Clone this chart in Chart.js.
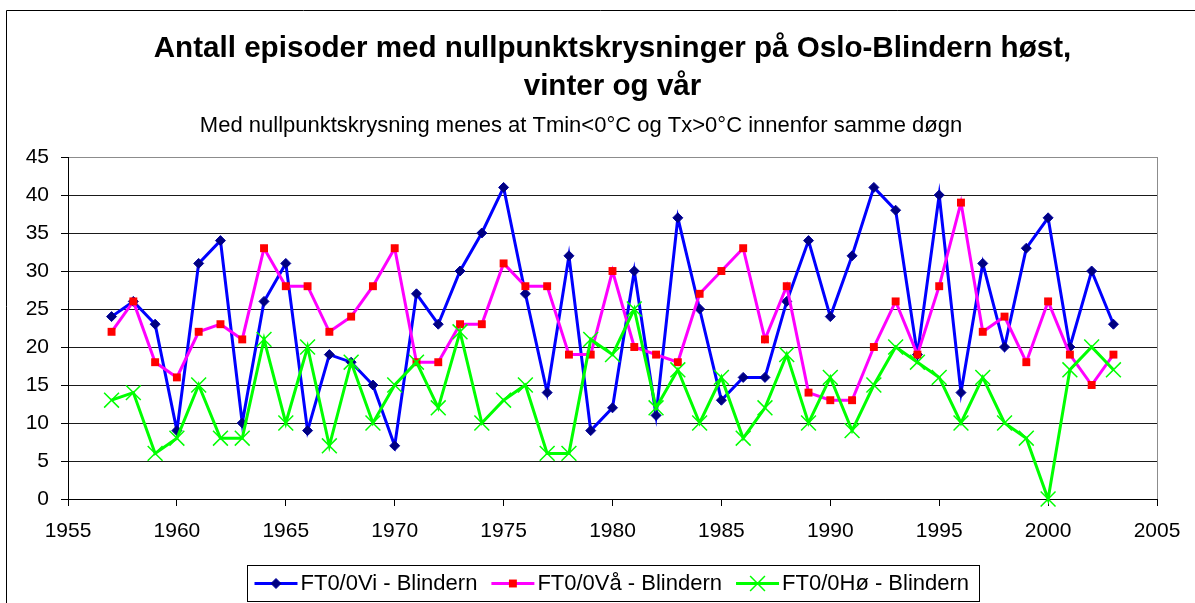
<!DOCTYPE html>
<html>
<head>
<meta charset="utf-8">
<title>Nullpunktskrysninger Oslo-Blindern</title>
<script src="https://cdn.jsdelivr.net/npm/chart.js"></script>
<style>
  html, body { margin: 0; padding: 0; background: #fff; }
  canvas { display: block; }
</style>
</head>
<body>
<canvas id="chart" width="1195" height="603"></canvas>
<script>
// --- Data ---
const years = [1957, 1958, 1959, 1960, 1961, 1962, 1963, 1964, 1965, 1966,
               1967, 1968, 1969, 1970, 1971, 1972, 1973, 1974, 1975, 1976,
               1977, 1978, 1979, 1980, 1981, 1982, 1983, 1984, 1985, 1986,
               1987, 1988, 1989, 1990, 1991, 1992, 1993, 1994, 1995, 1996,
               1997, 1998, 1999, 2000, 2001, 2002, 2003];
const vinter = [24, 26, 23, 9, 31, 34, 10, 26, 31, 9,
                19, 18, 15, 7, 27, 23, 30, 35, 41, 27,
                14, 32, 9, 12, 30, 11, 37, 25, 13, 16,
                16, 26, 34, 24, 32, 41, 38, 19, 40, 14,
                31, 20, 33, 37, 20, 30, 23];
const vaar = [22, 26, 18, 16, 22, 23, 21, 33, 28, 28,
              22, 24, 28, 33, 18, 18, 23, 23, 31, 28,
              28, 19, 19, 30, 20, 19, 18, 27, 30, 33,
              21, 28, 14, 13, 13, 20, 26, 19, 28, 39,
              22, 24, 18, 26, 19, 15, 19];
const host = [13, 14, 6, 8, 15, 8, 8, 21, 10, 20,
              7, 18, 10, 15, 18, 12, 22, 10, 13, 15,
              6, 6, 21, 19, 25, 12, 17, 10, 16, 8,
              12, 19, 10, 16, 9, 15, 20, 18, 16, 10,
              16, 10, 8, 0, 17, 20, 17];
const seriesNames = ['FT0/0Vi - Blindern', 'FT0/0Vå - Blindern', 'FT0/0Hø - Blindern'];
const xRange = [1955, 2005];
const yRange = [0, 45];
const tickStep = 5;

const titleLines = ['Antall episoder med nullpunktskrysninger på Oslo-Blindern høst,', 'vinter og vår'];
const subtitleText = 'Med nullpunktskrysning menes at Tmin<0°C og Tx>0°C innenfor samme døgn';

const FONT = '"Liberation Sans", Arial, Helvetica, sans-serif';
Chart.defaults.font.family = FONT;
Chart.defaults.color = '#000';

const toPoints = arr => arr.map((v, i) => ({ x: years[i], y: v }));

// Excel-ish frame: outer border top/left + grey right edge of plot area
const framePlugin = {
    id: 'frame',
    beforeDraw(chart) {
        const ctx = chart.ctx;
        ctx.save();
        ctx.strokeStyle = '#000';
        ctx.lineWidth = 1;
        ctx.beginPath();
        ctx.moveTo(6.5, chart.height);
        ctx.lineTo(6.5, 10.5);
        ctx.lineTo(chart.width, 10.5);
        ctx.stroke();
        ctx.restore();
    },
    beforeDatasetsDraw(chart) {
        const a = chart.chartArea;
        const ctx = chart.ctx;
        ctx.save();
        ctx.strokeStyle = '#8c8c8c';
        ctx.lineWidth = 1;
        ctx.beginPath();
        ctx.moveTo(Math.round(a.right) + 0.5, a.top);
        ctx.lineTo(Math.round(a.right) + 0.5, a.bottom);
        ctx.stroke();
        ctx.restore();
    }
};

// Subtitle sits a bit left of the title in the original, so it is drawn here
const subtitlePlugin = {
    id: 'subtitleText',
    afterDraw(chart) {
        const ctx = chart.ctx;
        ctx.save();
        ctx.font = '22px ' + FONT;
        ctx.fillStyle = '#000';
        ctx.textAlign = 'center';
        ctx.textBaseline = 'alphabetic';
        ctx.fillText(subtitleText, 581, 132);
        ctx.restore();
    }
};

function drawMarker(ctx, style, x, y, r) {
    ctx.beginPath();
    if (style === 'rectRot') {
        ctx.moveTo(x, y - r);
        ctx.lineTo(x + r, y);
        ctx.lineTo(x, y + r);
        ctx.lineTo(x - r, y);
        ctx.closePath();
        ctx.fill();
        ctx.stroke();
    } else if (style === 'rect') {
        const s = r * Math.SQRT1_2;
        ctx.rect(x - s, y - s, 2 * s, 2 * s);
        ctx.fill();
    } else {
        const d = r * Math.SQRT1_2;
        ctx.moveTo(x - d, y - d);
        ctx.lineTo(x + d, y + d);
        ctx.moveTo(x - d, y + d);
        ctx.lineTo(x + d, y - d);
        ctx.stroke();
    }
}

// Legend box like Excel: line + marker sample, centred under the plot area
const legendPlugin = {
    id: 'excelLegend',
    afterDraw(chart) {
        const ctx = chart.ctx;
        const area = chart.chartArea;
        const sets = chart.data.datasets;
        ctx.save();
        ctx.font = '22px ' + FONT;
        const lineLen = 43, gapText = 3, gapItem = 14, padL = 7, padR = 10;
        const widths = sets.map(ds => ctx.measureText(ds.label).width);
        let total = padL + padR;
        widths.forEach((w, i) => {
            total += lineLen + gapText + w + (i < widths.length - 1 ? gapItem : 0);
        });
        const boxLeft = Math.round((area.left + area.right) / 2 - total / 2) + 0.5;
        const boxTop = 565.5, boxH = 36;
        ctx.strokeStyle = '#000';
        ctx.lineWidth = 1;
        ctx.strokeRect(boxLeft, boxTop, Math.round(total), boxH);

        const cy = boxTop + boxH / 2;
        let x = boxLeft + padL;
        sets.forEach((ds, i) => {
            ctx.strokeStyle = ds.borderColor;
            ctx.lineWidth = ds.borderWidth;
            ctx.beginPath();
            ctx.moveTo(x, cy);
            ctx.lineTo(x + lineLen, cy);
            ctx.stroke();
            ctx.fillStyle = ds.pointBackgroundColor;
            ctx.strokeStyle = ds.pointBorderColor;
            ctx.lineWidth = ds.pointBorderWidth;
            drawMarker(ctx, ds.pointStyle, x + lineLen / 2, cy, ds.pointRadius);
            ctx.fillStyle = '#000';
            ctx.textAlign = 'left';
            ctx.textBaseline = 'middle';
            ctx.fillText(ds.label, x + lineLen + gapText, cy);
            x += lineLen + gapText + widths[i] + gapItem;
        });
        ctx.restore();
    }
};

new Chart(document.getElementById('chart'), {
    type: 'line',
    data: {
        datasets: [
            {
                label: seriesNames[0],
                data: toPoints(vinter),
                borderColor: '#0000ff',
                borderWidth: 3,
                pointStyle: 'rectRot',
                pointRadius: 5,
                pointBackgroundColor: '#000080',
                pointBorderColor: '#0000a0',
                pointBorderWidth: 1,
                order: 3,
                clip: false
            },
            {
                label: seriesNames[1],
                data: toPoints(vaar),
                borderColor: '#ff00ff',
                borderWidth: 3,
                pointStyle: 'rect',
                pointRadius: 5.6,
                pointBackgroundColor: '#ff0000',
                pointBorderColor: '#ff0000',
                pointBorderWidth: 0,
                order: 2,
                clip: false
            },
            {
                label: seriesNames[2],
                data: toPoints(host),
                borderColor: '#00ff00',
                borderWidth: 3,
                pointStyle: 'crossRot',
                pointRadius: 10.5,
                pointBackgroundColor: '#00ff00',
                pointBorderColor: '#00ff00',
                pointBorderWidth: 1.5,
                order: 1,
                clip: false
            }
        ]
    },
    options: {
        responsive: false,
        animation: false,
        events: [],
        layout: {
            padding: { left: 0, right: 38, top: 0, bottom: 54 }
        },
        plugins: {
            legend: { display: false },
            tooltip: { enabled: false },
            title: {
                display: true,
                fullSize: false,
                text: titleLines,
                color: '#000',
                font: { size: 29.6, weight: 'bold', lineHeight: 1.284 },
                padding: { top: 30, bottom: 51 }
            }
        },
        scales: {
            x: {
                type: 'linear',
                min: xRange[0],
                max: xRange[1],
                afterFit: scale => { scale.height = 50; },
                ticks: {
                    stepSize: tickStep,
                    padding: 13,
                    font: { size: 21 },
                    color: '#000',
                    callback: v => String(v)
                },
                grid: {
                    drawOnChartArea: false,
                    drawTicks: true,
                    tickLength: 7,
                    color: '#000'
                },
                border: { color: '#000', width: 1 }
            },
            y: {
                min: yRange[0],
                max: yRange[1],
                afterFit: scale => { scale.width = 68; },
                ticks: {
                    stepSize: tickStep,
                    padding: 12,
                    font: { size: 21 },
                    color: '#000'
                },
                grid: {
                    tickLength: 7,
                    color: ctx => (ctx.tick && ctx.tick.value === yRange[1]) ? '#8c8c8c' : '#1a1a1a',
                    tickColor: '#000'
                },
                border: { color: '#000', width: 1 }
            }
        }
    },
    plugins: [framePlugin, subtitlePlugin, legendPlugin]
});
</script>
</body>
</html>
